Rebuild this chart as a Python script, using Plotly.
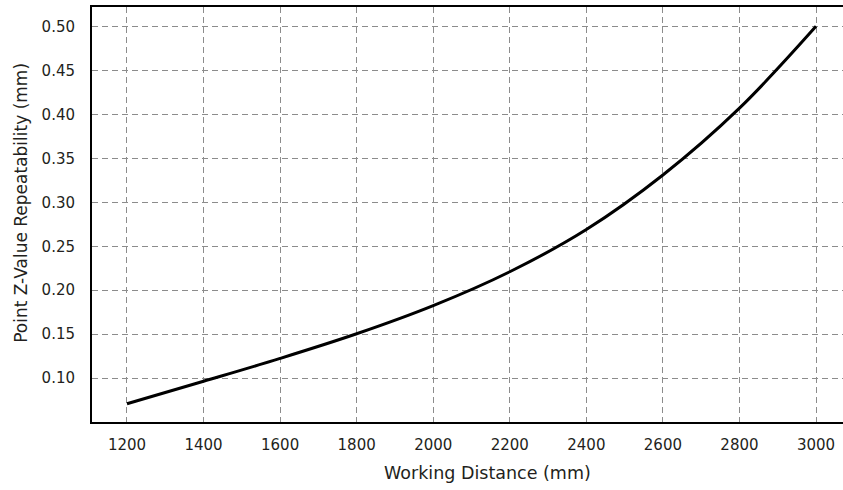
import plotly.graph_objects as go

# Working distance vs point Z-value repeatability
distance_mm = [1200, 1400, 1600, 1800, 2000, 2200, 2400, 2600, 2800, 3000]
repeatability_mm = [0.071, 0.0965, 0.1225, 0.1505, 0.1825, 0.221, 0.269, 0.331, 0.407, 0.500]

x_ticks = [1200, 1400, 1600, 1800, 2000, 2200, 2400, 2600, 2800, 3000]
y_ticks = [0.10, 0.15, 0.20, 0.25, 0.30, 0.35, 0.40, 0.45, 0.50]

x_title = "Working Distance (mm)"
y_title = "Point Z-Value Repeatability (mm)"

FONT = "DejaVu Sans, sans-serif"
TEXT = "#231f20"
GRID = "#8c8c8c"

fig = go.Figure()

fig.add_trace(go.Scatter(
    x=distance_mm,
    y=repeatability_mm,
    mode="lines",
    line=dict(color="black", width=3, shape="spline", smoothing=1.0),
    showlegend=False,
))

fig.update_layout(
    width=843,
    height=490,
    margin=dict(l=92, r=0, t=7, b=68),
    paper_bgcolor="white",
    plot_bgcolor="white",
    font=dict(family=FONT, color=TEXT, size=15),
)

fig.update_xaxes(
    range=[1108.6, 3070.5],
    tickvals=x_ticks,
    ticktext=[str(v) for v in x_ticks],
    showgrid=True,
    gridcolor=GRID,
    griddash="6px,4px",
    gridwidth=1,
    showline=True,
    linecolor="black",
    linewidth=2,
    mirror=True,
    ticks="",
    ticklabelstandoff=8,
    zeroline=False,
    automargin=False,
)

fig.update_yaxes(
    range=[0.0502, 0.522],
    tickvals=y_ticks,
    ticktext=[f"{v:.2f}" for v in y_ticks],
    showgrid=True,
    gridcolor=GRID,
    griddash="6px,4px",
    gridwidth=1,
    showline=True,
    linecolor="black",
    linewidth=2,
    ticks="",
    ticklabelstandoff=12,
    zeroline=False,
    automargin=False,
)

# axis titles as annotations: the source image is cropped on the right,
# so the titles are not centred on the visible plot area
fig.add_annotation(
    text=x_title, xref="paper", yref="paper", x=0.526, y=-0.123,
    xanchor="center", yanchor="middle", showarrow=False,
    font=dict(size=17.5, color=TEXT),
)
fig.add_annotation(
    text=y_title, xref="paper", yref="paper", x=-0.094, y=0.529,
    xanchor="center", yanchor="middle", showarrow=False, textangle=-90,
    font=dict(size=17, color=TEXT),
)

# drop the default page margin so the figure sits at the window's corner
fig.write_html(
    "out.html",
    config={"displayModeBar": False},
    post_script="document.body.style.margin='0';",
)
